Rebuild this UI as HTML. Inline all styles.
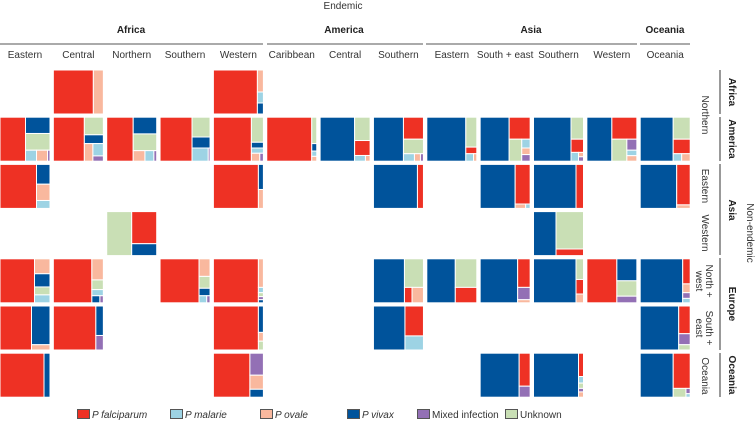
<!DOCTYPE html>
<html><head><meta charset="utf-8">
<style>
body{margin:0;background:#fff;}
svg{display:block;font-family:"Liberation Sans",sans-serif;}
.h{font-size:10px;fill:#333;}
.b{font-size:10px;font-weight:bold;fill:#222;}
.lg{font-size:10px;fill:#333;}
</style></head>
<body>
<svg id="chart" width="756" height="430" viewBox="0 0 756 430">
<g>
<text class="h" x="343" y="9" text-anchor="middle">Endemic</text>
<text class="b" x="131" y="33" text-anchor="middle">Africa</text>
<text class="b" x="344" y="33" text-anchor="middle">America</text>
<text class="b" x="531" y="33" text-anchor="middle">Asia</text>
<text class="b" x="665" y="33" text-anchor="middle">Oceania</text>
<line x1="0" y1="44" x2="263" y2="44" stroke="#555"/>
<line x1="267" y1="44" x2="423" y2="44" stroke="#555"/>
<line x1="426" y1="44" x2="637" y2="44" stroke="#555"/>
<line x1="640" y1="44" x2="690" y2="44" stroke="#555"/>
</g>
<g id="colLabels"></g>
<g id="cells"></g>
<g>
<line x1="720" y1="70" x2="720" y2="114" stroke="#333"/>
<line x1="720" y1="117" x2="720" y2="161" stroke="#333"/>
<line x1="720" y1="164" x2="720" y2="255" stroke="#333"/>
<line x1="720" y1="258" x2="720" y2="350" stroke="#333"/>
<line x1="720" y1="353" x2="720" y2="397" stroke="#333"/>
<text class="b" transform="translate(729,92) rotate(90)" text-anchor="middle">Africa</text>
<text class="b" transform="translate(729,139) rotate(90)" text-anchor="middle">America</text>
<text class="b" transform="translate(729,210) rotate(90)" text-anchor="middle">Asia</text>
<text class="b" transform="translate(729,304) rotate(90)" text-anchor="middle">Europe</text>
<text class="b" transform="translate(729,375) rotate(90)" text-anchor="middle">Oceania</text>
<text class="h" transform="translate(702,115) rotate(90)" text-anchor="middle">Northern</text>
<text class="h" transform="translate(702,186) rotate(90)" text-anchor="middle">Eastern</text>
<text class="h" transform="translate(702,233) rotate(90)" text-anchor="middle">Western</text>
<text class="h" transform="translate(706,281) rotate(90)" text-anchor="middle">North +</text>
<text class="h" transform="translate(696,281) rotate(90)" text-anchor="middle">west</text>
<text class="h" transform="translate(706,328) rotate(90)" text-anchor="middle">South +</text>
<text class="h" transform="translate(696,328) rotate(90)" text-anchor="middle">east</text>
<text class="h" transform="translate(702,376) rotate(90)" text-anchor="middle">Oceania</text>
<text class="h" transform="translate(747,233) rotate(90)" text-anchor="middle">Non-endemic</text>
</g>
<g id="legend"></g>
</svg>
<script>
const colorKeys = ['F','M','O','V','X','U'];
const colorFills = {F:'#ee3124',M:'#9dd3e4',O:'#f9b89e',V:'#00539b',X:'#9370b5',U:'#c9dfb5'};
const legendLabels = ['P falciparum','P malarie','P ovale','P vivax','Mixed infection','Unknown'];
const legendX = [77,170,260,347,417,505];
const columnLabels = ['Eastern','Central','Northern','Southern','Western','Caribbean','Central','Southern','Eastern','South + east','Southern','Western','Oceania'];
// tree: leaf = 'F'; split = ['h'|'v', [weight,node], ...]
const cellRows = [0,0,
 1,1,1,1,1,1,1,1,1,1,1,1,1,
 2,2,2,2,2,2,
 3,3,
 4,4,4,4,4,4,4,4,4,4,
 5,5,5,5,5,
 6,6,6,6,6];
const cellCols = [1,4,
 0,1,2,3,4,5,6,7,8,9,10,11,12,
 0,4,7,9,10,12,
 2,10,
 0,1,3,4,7,8,9,10,11,12,
 0,1,4,7,12,
 0,4,9,10,12];
const cellTrees = [
 ['h',[80,'F'],[20,'O']],
 ['h',[88,'F'],[12,['v',[50,'O'],[25,'M'],[25,'V']]]],
 ['h',[51,'F'],[49,['v',[37,'V'],[38,'U'],[25,['h',[45,'M'],[45,'O'],[10,'X']]]]]],
 ['h',[62,'F'],[38,['v',[40,'U'],[20,'V'],[40,['h',[45,'O'],[55,['v',[70,'M'],[30,'X']]]]]]]],
 ['h',[53,'F'],[47,['v',[38,'V'],[38,'U'],[24,['h',[50,'O'],[38,'M'],[12,'X']]]]]],
 ['h',[64,'F'],[36,['v',[45,'U'],[25,'V'],[30,['h',[90,'M'],[10,'X']]]]]],
 ['h',[76,'F'],[24,['v',[57,'U'],[13,'V'],[12,'M'],[18,['h',[70,'O'],[30,'X']]]]]],
 ['h',[90,'F'],[10,['v',[60,'U'],[17,'V'],[12,'M'],[11,'O']]]],
 ['h',[69,'V'],[31,['v',[53,'U'],[34,'F'],[13,['h',[70,'M'],[30,'O']]]]]],
 ['h',[60,'V'],[40,['v',[50,'F'],[33,'U'],[17,['h',[55,'M'],[30,'O'],[15,'X']]]]]],
 ['h',[78,'V'],[22,['v',[68,'U'],[15,'F'],[17,['h',[70,'M'],[30,'O']]]]]],
 ['h',[58,'V'],[42,['v',[50,'F'],[50,['h',[60,'U'],[40,['v',[40,'M'],[30,'O'],[30,'X']]]]]]]],
 ['h',[75,'V'],[25,['v',[50,'U'],[30,'F'],[20,['h',[60,'M'],[40,['v',[50,'O'],[50,'X']]]]]]]],
 ['h',[50,'V'],[50,['v',[50,'F'],[50,['h',[60,'U'],[40,['v',[50,'X'],[25,'M'],[25,'O']]]]]]]],
 ['h',[66,'V'],[34,['v',[50,'U'],[33,'F'],[17,['h',[50,'M'],[50,'O']]]]]],
 ['h',[73,'F'],[27,['v',[45,'V'],[37,'O'],[18,'M']]]],
 ['h',[90,'F'],[10,['v',[57,'V'],[43,'O']]]],
 ['h',[88,'V'],[12,'F']],
 ['h',[70,'V'],[30,['v',[90,'F'],[10,['h',[70,'O'],[30,'M']]]]]],
 ['h',[85,'V'],[15,'F']],
 ['h',[73,'V'],[27,['v',[92,'F'],[8,'O']]]],
 ['h',[50,'U'],[50,['v',[73,'F'],[27,'V']]]],
 ['h',[45,'V'],[55,['v',[85,'U'],[15,'F']]]],
 ['h',[69,'F'],[31,['v',[34,'O'],[30,'V'],[18,'U'],[18,'M']]]],
 ['h',[77,'F'],[23,['v',[48,'O'],[22,'U'],[14,'M'],[16,['h',[70,'V'],[30,'X']]]]]],
 ['h',[78,'F'],[22,['v',[40,'O'],[27,'U'],[17,'V'],[16,['h',[70,'M'],[30,'X']]]]]],
 ['h',[90,'F'],[10,['v',[65,'O'],[12,'M'],[9,'U'],[7,'X'],[7,'V']]]],
 ['h',[62,'V'],[38,['v',[65,'U'],[35,['h',[40,'F'],[60,'O']]]]]],
 ['h',[57,'V'],[43,['v',[65,'U'],[35,'F']]]],
 ['h',[75,'V'],[25,['v',[65,'F'],[28,'X'],[7,'O']]]],
 ['h',[85,'V'],[15,['v',[47,'U'],[33,'F'],[20,'O']]]],
 ['h',[60,'F'],[40,['v',[50,'V'],[35,'U'],[15,'X']]]],
 ['h',[85,'V'],[15,['v',[57,'F'],[20,'O'],[13,'X'],[10,'M']]]],
 ['h',[63,'F'],[37,['v',[88,'V'],[12,'O']]]],
 ['h',[85,'F'],[15,['v',[67,'V'],[33,'X']]]],
 ['h',[90,'F'],[10,['v',[60,'V'],[20,'O'],[20,'U']]]],
 ['h',[63,'V'],[37,['v',[68,'F'],[32,'M']]]],
 ['h',[77,'V'],[23,['v',[63,'F'],[25,'X'],[12,'U']]]],
 ['h',[88,'F'],[12,'V']],
 ['h',[73,'F'],[27,['v',[50,'X'],[32,'O'],[18,'V']]]],
 ['h',[78,'V'],[22,['v',[75,'F'],[25,'X']]]],
 ['h',[90,'V'],[10,['v',[53,'F'],[15,'M'],[12,'U'],[8,'X'],[12,'O']]]],
 ['h',[66,'V'],[34,['v',[80,'F'],[20,['h',[75,'U'],[25,['v',[60,'X'],[40,'M']]]]]]]]
];
const NS='http://www.w3.org/2000/svg';
const colX = c => c*53.35;
const rowY = r => 70 + r*47.2;
const CW = 50, CH = 44;
const cellsG = document.getElementById('cells');
function draw(node, x, y, w, h, g){
  if (typeof node === 'string'){
    const r = document.createElementNS(NS,'rect');
    r.setAttribute('x', x); r.setAttribute('y', y);
    r.setAttribute('width', Math.max(0,w)); r.setAttribute('height', Math.max(0,h));
    r.setAttribute('fill', colorFills[node]);
    r.setAttribute('stroke', '#fff'); r.setAttribute('stroke-width', '1');
    
    
    g.appendChild(r); return;
  }
  const dir = node[0], kids = node.slice(1);
  const tot = kids.reduce((s,k)=>s+k[0],0);
  let off = 0;
  kids.forEach(k=>{
    const f = k[0]/tot;
    if (dir==='h') draw(k[1], x+off*w, y, w*f, h, g);
    else draw(k[1], x, y+off*h, w, h*f, g);
    off += f;
  });
}
cellTrees.forEach((t,i)=>{
  const g = document.createElementNS(NS,'g');
  
  
  cellsG.appendChild(g);
  draw(t, colX(cellCols[i]), rowY(cellRows[i]), CW, CH, g);
});
const cl = document.getElementById('colLabels');
columnLabels.forEach((s,i)=>{
  const t = document.createElementNS(NS,'text');
  t.setAttribute('class','h'); t.setAttribute('x', colX(i)+25); t.setAttribute('y', 58);
  t.setAttribute('text-anchor','middle'); t.textContent = s;
  
  
  cl.appendChild(t);
});
const lg = document.getElementById('legend');
colorKeys.forEach((k,i)=>{
  const r = document.createElementNS(NS,'rect');
  r.setAttribute('x', legendX[i]+0.5); r.setAttribute('y', 409.5);
  r.setAttribute('width', 12); r.setAttribute('height', 9);
  r.setAttribute('fill', colorFills[k]); r.setAttribute('stroke', '#555');
  
  
  lg.appendChild(r);
  const t = document.createElementNS(NS,'text');
  t.setAttribute('class','lg'); t.setAttribute('x', legendX[i]+15); t.setAttribute('y', 418);
  if (i<4) t.setAttribute('font-style','italic');
  t.textContent = legendLabels[i];
  
  
  lg.appendChild(t);
});
</script>
</body></html>
